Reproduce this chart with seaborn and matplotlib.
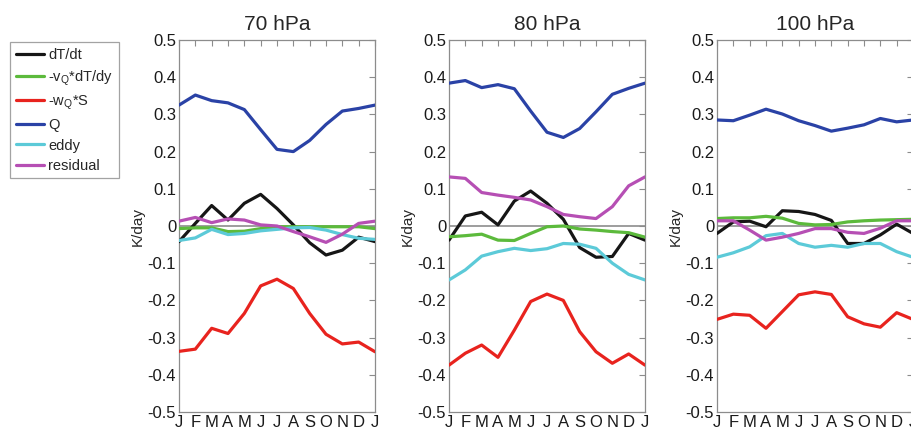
import numpy as np
import pandas as pd
import matplotlib
matplotlib.use("Agg")
import matplotlib.pyplot as plt
import seaborn as sns
from matplotlib.lines import Line2D

months = ["J", "F", "M", "A", "M", "J", "J", "A", "S", "O", "N", "D", "J"]
levels = ["70 hPa", "80 hPa", "100 hPa"]
series_names = ["dT/dt", r"-v$_{\rm Q}$*dT/dy", r"-w$_{\rm Q}$*S", "Q", "eddy", "residual"]
series_colors = ["#161616", "#5cba3c", "#e8231e", "#2a42a6", "#5ccad8", "#b64fb4"]

# 70 hPa
dTdt_70 = [-0.042, 0.007, 0.055, 0.016, 0.061, 0.085, 0.047, 0.003, -0.045, -0.078, -0.065, -0.030, -0.042]
vQ_70 = [-0.007, -0.005, -0.005, -0.015, -0.014, -0.007, -0.002, -0.002, -0.002, -0.002, -0.002, -0.002, -0.007]
wQ_70 = [-0.337, -0.331, -0.275, -0.289, -0.235, -0.161, -0.143, -0.168, -0.235, -0.291, -0.317, -0.312, -0.338]
Q_70 = [0.325, 0.352, 0.337, 0.331, 0.313, 0.259, 0.206, 0.200, 0.230, 0.273, 0.309, 0.316, 0.325]
eddy_70 = [-0.039, -0.032, -0.009, -0.023, -0.020, -0.013, -0.009, -0.005, -0.004, -0.011, -0.023, -0.033, -0.036]
resid_70 = [0.013, 0.023, 0.009, 0.019, 0.016, 0.003, 0.000, -0.015, -0.029, -0.044, -0.022, 0.007, 0.013]

# 80 hPa
dTdt_80 = [-0.038, 0.027, 0.037, 0.003, 0.067, 0.094, 0.061, 0.018, -0.058, -0.084, -0.082, -0.020, -0.038]
vQ_80 = [-0.029, -0.026, -0.022, -0.038, -0.039, -0.020, -0.002, 0.000, -0.008, -0.011, -0.015, -0.018, -0.030]
wQ_80 = [-0.374, -0.342, -0.320, -0.353, -0.280, -0.203, -0.183, -0.200, -0.284, -0.338, -0.369, -0.344, -0.374]
Q_80 = [0.384, 0.391, 0.372, 0.380, 0.369, 0.309, 0.252, 0.238, 0.262, 0.307, 0.354, 0.370, 0.384]
eddy_80 = [-0.145, -0.118, -0.081, -0.069, -0.060, -0.066, -0.061, -0.047, -0.049, -0.060, -0.100, -0.130, -0.145]
resid_80 = [0.132, 0.128, 0.090, 0.083, 0.077, 0.070, 0.052, 0.031, 0.025, 0.020, 0.052, 0.108, 0.132]

# 100 hPa
dTdt_100 = [-0.020, 0.011, 0.013, -0.002, 0.041, 0.039, 0.031, 0.015, -0.047, -0.047, -0.024, 0.005, -0.020]
vQ_100 = [0.020, 0.022, 0.022, 0.026, 0.021, 0.007, 0.003, 0.004, 0.011, 0.014, 0.016, 0.017, 0.018]
wQ_100 = [-0.251, -0.237, -0.240, -0.275, -0.230, -0.185, -0.177, -0.184, -0.244, -0.263, -0.272, -0.233, -0.251]
Q_100 = [0.285, 0.283, 0.298, 0.314, 0.301, 0.283, 0.270, 0.255, 0.263, 0.272, 0.289, 0.280, 0.285]
eddy_100 = [-0.084, -0.072, -0.056, -0.026, -0.020, -0.047, -0.057, -0.052, -0.057, -0.047, -0.047, -0.069, -0.084]
resid_100 = [0.014, 0.014, -0.011, -0.038, -0.030, -0.020, -0.007, -0.007, -0.017, -0.020, -0.006, 0.014, 0.014]

panel_data = [
    [dTdt_70, vQ_70, wQ_70, Q_70, eddy_70, resid_70],
    [dTdt_80, vQ_80, wQ_80, Q_80, eddy_80, resid_80],
    [dTdt_100, vQ_100, wQ_100, Q_100, eddy_100, resid_100],
]

rows = []
for lev, arrs in zip(levels, panel_data):
    for name, vals in zip(series_names, arrs):
        for i, v in enumerate(vals):
            rows.append({"level": lev, "series": name, "month": i, "value": v})
df = pd.DataFrame(rows)

sns.set_style("white")
plt.rcParams["font.family"] = ["Liberation Sans", "DejaVu Sans"]
plt.rcParams["mathtext.fontset"] = "custom"
plt.rcParams["mathtext.rm"] = "Liberation Sans"

W, H = 912, 429
fig = plt.figure(figsize=(W / 100, H / 100), dpi=100)
lefts = [179, 449, 717]
width = 196
top, bottom = 40, 412
palette = dict(zip(series_names, series_colors))
grey = "#8c8c8c"

for k, lev in enumerate(levels):
    ax = fig.add_axes([lefts[k] / W, (H - bottom) / H, width / W, (bottom - top) / H])
    ax.axhline(0, color=grey, lw=1.2, zorder=1)
    sub = df[df["level"] == lev]
    sns.lineplot(data=sub, x="month", y="value", hue="series", hue_order=series_names,
                 palette=palette, lw=2.3, legend=False, ax=ax, zorder=3)
    ax.set_xlim(0, 12)
    ax.set_ylim(-0.5, 0.5)
    ax.set_xticks(range(13))
    ax.set_xticklabels(months, fontsize=12)
    ax.set_yticks(np.round(np.arange(-0.5, 0.51, 0.1), 1))
    ax.set_yticklabels(["-0.5", "-0.4", "-0.3", "-0.2", "-0.1", "0",
                        "0.1", "0.2", "0.3", "0.4", "0.5"], fontsize=12)
    ax.tick_params(direction="in", length=4, width=0.8, color=grey, top=True, right=True,
                   pad=2, labelcolor="#1a1a1a")
    for s in ax.spines.values():
        s.set_color(grey)
        s.set_linewidth(0.9)
        s.set_visible(True)
    ax.set_xlabel("")
    ax.set_ylabel("K/day", fontsize=11, labelpad=2)
    ax.set_title(lev, fontsize=15, pad=7)

handles = [Line2D([0], [0], color=c, lw=2.3) for c in series_colors]
leg = fig.legend(handles, series_names, loc="upper left",
                 bbox_to_anchor=(10 / W, 1 - 42 / H), fontsize=10.5,
                 frameon=True, fancybox=False, handlelength=1.9, handletextpad=0.3,
                 labelspacing=0.42, borderpad=0.4, borderaxespad=0)
leg.get_frame().set_edgecolor(grey)
leg.get_frame().set_linewidth(0.9)

fig.savefig("out.png", dpi=100)
